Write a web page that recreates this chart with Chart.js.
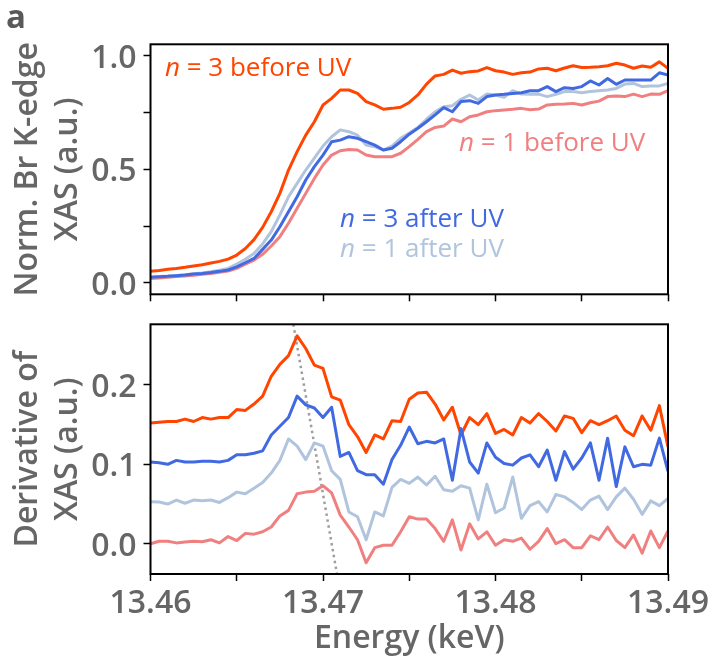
<!DOCTYPE html>
<html>
<head>
<meta charset="utf-8">
<script src="https://cdn.jsdelivr.net/npm/chart.js@4.4.0/dist/chart.umd.min.js"></script>
<style>
  html, body { margin: 0; padding: 0; background: #fff; }
  #wrap { position: relative; width: 713px; height: 661px; }
  #top { position: absolute; left: 0; top: 0; }
  #bot { position: absolute; left: 0; top: 300px; }
</style>
</head>
<body>
<div id="wrap">
  <canvas id="top" width="713" height="320"></canvas>
  <canvas id="bot" width="713" height="361"></canvas>
</div>
<script>
// energy grid (keV)
const energy = [
  13.4600, 13.4605, 13.4610, 13.4615, 13.4620, 13.4625, 13.4630, 13.4635, 13.4640, 13.4645,
  13.4650, 13.4655, 13.4660, 13.4665, 13.4670, 13.4675, 13.4680, 13.4685, 13.4690, 13.4695,
  13.4700, 13.4705, 13.4710, 13.4715, 13.4720, 13.4725, 13.4730, 13.4735, 13.4740, 13.4745,
  13.4750, 13.4755, 13.4760, 13.4765, 13.4770, 13.4775, 13.4780, 13.4785, 13.4790, 13.4795,
  13.4800, 13.4805, 13.4810, 13.4815, 13.4820, 13.4825, 13.4830, 13.4835, 13.4840, 13.4845,
  13.4850, 13.4855, 13.4860, 13.4865, 13.4870, 13.4875, 13.4880, 13.4885, 13.4890, 13.4895,
  13.4900
];

// top panel: normalised XAS
const xasN3Before = [
  .051, .054, .059, .063, .068, .074, .079, .087, .094, .104,
  .122, .151, .190, .244, .313, .394, .497,
  .578, .651, .710, .784, .813, .850, .850, .835, .799, .784, .765, .769, .774, .795,
  .828, .876, .912, .919, .938, .924, .931, .934, .949, .935, .929, .919, .926, .929, .943,
  .946, .935, .947, .957, .949, .950, .953, .957, .968, .960, .946, .956, .950, .974, .946
];
const xasN3After = [
  .024, .026, .028, .031, .034, .038, .041, .045, .050, .056,
  .070, .088, .107, .147, .188, .247, .313,
  .379, .453, .512, .563, .622, .629, .644, .637, .622, .607, .585, .593, .622, .655,
  .681, .710, .740, .772, .754, .799, .803, .791, .821, .828, .831, .835, .838, .847, .847,
  .865, .843, .860, .857, .865, .890, .872, .901, .875, .894, .894, .894, .894, .926, .916
];
const xasN1After = [
  .025, .027, .029, .032, .035, .039, .043, .048, .055, .063,
  .082, .103, .129, .171, .225, .299, .379,
  .438, .497, .549, .603, .644, .674, .666, .651, .607, .600, .585, .603, .637, .660,
  .685, .721, .754, .776, .781, .809, .828, .806, .832, .828, .818, .847, .832, .831, .832,
  .821, .831, .843, .843, .838, .843, .847, .850, .857, .876, .879, .865, .868, .868, .879
];
const xasN1Before = [
  .019, .021, .024, .027, .030, .033, .037, .041, .046, .051,
  .063, .082, .100, .125, .162, .203, .262,
  .328, .394, .460, .519, .563, .582, .588, .585, .563, .556, .556, .556, .571, .600,
  .632, .666, .685, .691, .722, .710, .732, .740, .754, .759, .762, .765, .769, .763, .766,
  .784, .787, .788, .791, .784, .794, .801, .821, .824, .821, .832, .821, .832, .831, .847
];

// bottom panel: derivative (offset)
const derN3Before = [
  .152, .153, .154, .154, .157, .154, .159, .157, .159, .159,
  .169, .168, .176, .186, .211, .226, .237, .262, .246, .225,
  .221, .185, .181, .150, .135, .115, .137, .132, .155, .154, .182,
  .190, .191, .176, .156, .172, .137, .159, .150, .164, .139,
  .144, .137, .159, .152, .164, .154, .142, .161, .158, .140,
  .155, .150, .155, .161, .143, .136, .161, .143, .174, .122
];
const derN3After = [
  .103, .102, .100, .105, .103, .103, .104, .104, .103, .105,
  .112, .112, .114, .117, .137, .148, .159, .186, .175, .171,
  .159, .172, .110, .115, .092, .087, .087, .075, .106, .124, .147,
  .126, .129, .127, .132, .080, .145, .103, .089, .127, .109,
  .101, .099, .108, .112, .097, .118, .080, .116, .094, .108,
  .127, .080, .133, .072, .122, .097, .100, .099, .133, .091
];
const derN1After = [
  .053, .0525, .050, .055, .051, .055, .054, .055, .052, .058,
  .065, .063, .070, .077, .089, .105, .132, .123, .106, .127,
  .123, .092, .081, .040, .034, .005, .040, .035, .071, .081, .076,
  .084, .074, .085, .068, .066, .073, .070, .030, .075, .039,
  .045, .084, .032, .048, .053, .040, .062, .059, .052, .043,
  .055, .060, .043, .059, .070, .056, .037, .054, .048, .057
];
const derN1Before = [
  .000, .003, .003, .001, .002, .003, .0025, .005, .001, .009,
  .004, .013, .012, .015, .021, .035, .042, .063, .065, .066,
  .073, .064, .036, .021, .005, -.024, -.005, -.002, -.002, .015, .034,
  .031, .031, .019, .003, .030, -.008, .025, .006, .015, -.002,
  .005, .003, .007, -.007, .003, .019, .000, .005, -.005, -.005,
  .010, .005, .021, .004, -.005, .011, -.012, .016, -.005, .016
];

// guide line through the derivative maxima
const guideX = [13.46828, 13.47081];
const guideY = [0.2765, -0.0382];

// ticks
const energyTicks = [13.46, 13.465, 13.47, 13.475, 13.48, 13.485, 13.49];
const energyTickLabels = ['13.46', '', '13.47', '', '13.48', '', '13.49'];
const xasTicks = [0, 0.25, 0.5, 0.75, 1.0];
const xasTickLabels = ['0.0', '', '0.5', '', '1.0'];
const derTicks = [0, 0.1, 0.2];
const derTickLabels = ['0.0', '0.1', '0.2'];

const C_N3B = '#FF4500', C_N3A = '#4169E1', C_N1A = '#B0C4DE', C_N1B = '#F08080';
const GREY = '#666666';

Chart.defaults.font.family = "'Open Sans', sans-serif";

const pts = arr => energy.map((e, i) => ({ x: e, y: arr[i] }));

const framePlugin = {
  id: 'frame',
  afterDraw(chart, args, opts) {
    const { ctx, chartArea: a } = chart;
    ctx.save();
    ctx.strokeStyle = '#000';
    ctx.lineWidth = 2;
    ctx.strokeRect(a.left, a.top, a.right - a.left, a.bottom - a.top);
    // series labels, "n" in italics
    const sx = chart.scales.x, sy = chart.scales.y;
    (opts.items || []).forEach(it => {
      let px = sx.getPixelForValue(it.x);
      const py = sy.getPixelForValue(it.y);
      ctx.fillStyle = it.color;
      ctx.textBaseline = 'alphabetic';
      ctx.textAlign = 'left';
      ctx.font = "italic 26px 'Open Sans'";
      ctx.fillText('n', px, py);
      px += ctx.measureText('n').width;
      ctx.font = "26px 'Open Sans'";
      ctx.fillText(it.rest, px, py);
    });
    if (opts.letter) {
      ctx.fillStyle = '#595959';
      ctx.font = "bold 33px 'Open Sans'";
      ctx.fillText(opts.letter, 6, 28);
    }
    ctx.restore();
  }
};

function line(arr, color) {
  return { data: pts(arr), borderColor: color, borderWidth: 3, pointRadius: 0, tension: 0,
           borderJoinStyle: 'round', fill: false };
}

function panel(p) {
  return {
    type: 'line',
    data: { datasets: p.datasets },
    plugins: [framePlugin],
    options: {
      responsive: false,
      animation: false,
      events: [],
      layout: { padding: { left: 0, right: 45, top: p.padTop, bottom: 0 } },
      plugins: {
        legend: { display: false },
        tooltip: { enabled: false },
        frame: { items: p.items, letter: p.letter }
      },
      scales: {
        x: {
          type: 'linear', min: 13.46, max: 13.49,
          afterBuildTicks: s => { s.ticks = energyTicks.map(v => ({ value: v })); },
          afterFit: s => { s.height = p.xHeight; s.paddingLeft = 0; s.paddingRight = 0; },
          grid: { display: true, drawOnChartArea: false, drawTicks: true, tickLength: 7, tickWidth: 1.5, tickColor: '#000' },
          border: { display: false },
          ticks: {
            autoSkip: false, maxRotation: 0, minRotation: 0, padding: 4,
            color: GREY, font: { size: 32, weight: 600 },
            callback: (v, i) => p.showX ? energyTickLabels[i] : ''
          },
          title: {
            display: p.showX, text: 'Energy (keV)', color: GREY,
            font: { size: 32, weight: 600, lineHeight: 1.2 }, padding: { top: 0, bottom: 3 }
          }
        },
        y: {
          type: 'linear', min: p.yMin, max: p.yMax,
          afterBuildTicks: s => { s.ticks = p.yTicks.map(v => ({ value: v })); },
          afterFit: s => { s.width = 150.5; s.paddingTop = 0; s.paddingBottom = 0; },
          grid: { display: true, drawOnChartArea: false, drawTicks: true, tickLength: 7, tickWidth: 1.5, tickColor: '#000' },
          border: { display: false },
          ticks: {
            autoSkip: false, padding: 7, labelOffset: 3, color: GREY, font: { size: 32, weight: 600 },
            callback: (v, i) => p.yLabels[i]
          },
          title: {
            display: true, text: p.yTitle, color: GREY,
            font: { size: 32, weight: 600, lineHeight: 1.25 }, padding: { top: 8, bottom: 0 }
          }
        }
      }
    }
  };
}

new Chart(document.getElementById('top'), panel({
  padTop: 44.3, xHeight: 25.7, showX: false,
  yMin: -0.0512, yMax: 1.0516, yTicks: xasTicks, yLabels: xasTickLabels,
  yTitle: ['Norm. Br K-edge', 'XAS (a.u.)'],
  letter: 'a',
  items: [
    { x: 13.46084, y: 0.913, rest: ' = 3 before UV', color: C_N3B },
    { x: 13.47788, y: 0.582, rest: ' = 1 before UV', color: C_N1B },
    { x: 13.47099, y: 0.247, rest: ' = 3 after UV', color: C_N3A },
    { x: 13.47099, y: 0.113, rest: ' = 1 after UV', color: C_N1A }
  ],
  datasets: [
    line(xasN3After, C_N3A),
    line(xasN3Before, C_N3B),
    line(xasN1After, C_N1A),
    line(xasN1Before, C_N1B)
  ]
}));

new Chart(document.getElementById('bot'), panel({
  padTop: 24.3, xHeight: 87, showX: true,
  yMin: -0.0382, yMax: 0.2765, yTicks: derTicks, yLabels: derTickLabels,
  yTitle: ['Derivative of', 'XAS (a.u.)'],
  items: [],
  datasets: [
    line(derN3After, C_N3A),
    line(derN3Before, C_N3B),
    line(derN1After, C_N1A),
    line(derN1Before, C_N1B),
    { data: guideX.map((x, i) => ({ x: x, y: guideY[i] })), borderColor: '#9e9e9e', borderWidth: 2.5,
      borderDash: [2.5, 3.5], pointRadius: 0, fill: false }
  ]
}));
</script>
</body>
</html>
